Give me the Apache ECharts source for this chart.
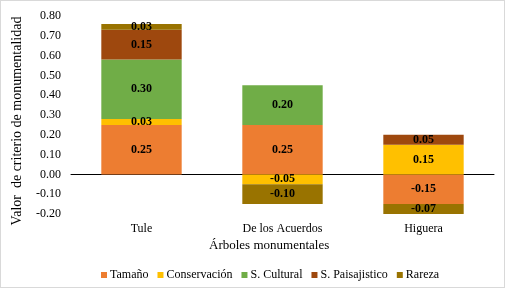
<!DOCTYPE html>
<html>
<head>
<meta charset="utf-8">
<script src="https://cdn.jsdelivr.net/npm/echarts@6/dist/echarts.min.js"></script>
<style>
  html, body { margin: 0; padding: 0; background: #fff; }
  #chart { width: 505px; height: 288px; box-sizing: border-box; border: 1px solid #d9d9d9; }
</style>
</head>
<body>
<div id="chart"></div>
<script>
var categories = ['Tule', 'De los Acuerdos', 'Higuera'];
var seriesNames = ['Tamaño', 'Conservación', 'S. Cultural', 'S. Paisajistico', 'Rareza'];
var tamano = [0.25, 0.25, -0.15];
var conservacion = [0.03, -0.05, 0.15];
var cultural = [0.30, 0.20, null];
var paisajistico = [0.15, null, 0.05];
var rareza = [0.03, -0.10, -0.07];
var colors = ['#ED7D31', '#FFC000', '#70AD47', '#9E480E', '#997300'];

var values = [tamano, conservacion, cultural, paisajistico, rareza];
var font = 'Liberation Serif';

var myChart = echarts.init(document.getElementById('chart'));

var series = seriesNames.map(function (name, i) {
    return {
        name: name,
        type: 'bar',
        stack: 'total',
        barWidth: '57%',
        data: values[i],
        itemStyle: { color: colors[i] },
        label: {
            show: true,
            position: 'inside',
            color: '#000',
            fontFamily: font,
            fontWeight: 'bold',
            fontSize: 12,
            formatter: function (p) { return p.value == null ? '' : p.value.toFixed(2); }
        }
    };
});

myChart.setOption({
    animation: false,
    textStyle: { fontFamily: font },
    grid: { left: 70, right: 10, top: 15, bottom: 73, containLabel: false, outerBoundsMode: 'none' },
    legend: {
        top: 263,
        left: 95,
        itemWidth: 6,
        itemHeight: 6,
        itemGap: 9,
        icon: 'rect',
        textStyle: { fontFamily: font, fontSize: 12, color: '#000', padding: [0, 0, 0, -2] },
        data: seriesNames
    },
    xAxis: {
        type: 'category',
        data: categories,
        axisLine: { onZero: true, lineStyle: { color: '#000', width: 1 } },
        axisTick: { show: false },
        axisLabel: { fontFamily: font, fontSize: 12, color: '#000', margin: 9 }
    },
    yAxis: {
        type: 'value',
        min: -0.2,
        max: 0.8,
        interval: 0.1,
        axisLine: { show: false },
        axisTick: { show: false },
        splitLine: { show: false },
        axisLabel: {
            fontFamily: font, fontSize: 12, color: '#000', margin: 10,
            formatter: function (v) { return v.toFixed(2); }
        }
    },
    graphic: [{
        type: 'text',
        left: 208,
        top: 238,
        style: { text: 'Árboles monumentales', font: '13px "Liberation Serif"', fill: '#000' }
    }, {
        type: 'text',
        x: 16,
        y: 120,
        rotation: Math.PI / 2,
        style: {
            text: 'Valor  de criterio de monumentalidad',
            font: '14px "Liberation Serif"',
            fill: '#000',
            align: 'center',
            verticalAlign: 'middle'
        }
    }],
    series: series
});
</script>
</body>
</html>
